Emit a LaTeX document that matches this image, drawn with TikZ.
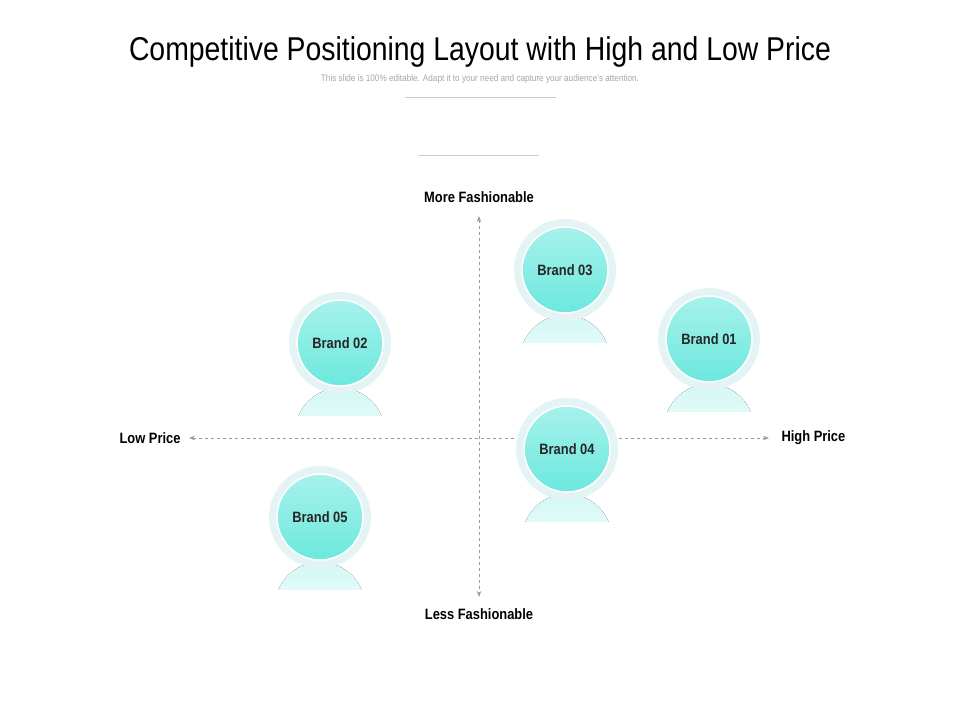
\documentclass[tikz,border=0pt]{standalone}
\usepackage{fontspec}
\setmainfont{Liberation Sans}[FakeStretch=0.86]
\usetikzlibrary{arrows.meta}
\definecolor{brandfill}{HTML}{6CE8DD}
\definecolor{brandtop}{HTML}{A6F2EC}
\definecolor{halo}{HTML}{E4F4F4}
\definecolor{axisgray}{HTML}{9A9A9A}
\begin{document}
\begin{tikzpicture}[x=1pt,y=-1pt,
    brandstyle/.style={circle, minimum size=86pt, inner sep=0pt, top color=brandtop, bottom color=brandfill, draw=white, line width=1.5pt, font=\bfseries\fontsize{15}{15}\selectfont, text=black!85},
    halostyle/.style={circle, minimum size=102pt, inner sep=0pt, fill=halo},
    axisstyle/.style={draw=axisgray, dashed, line width=0.8pt, {Stealth[length=6pt]}-{Stealth[length=6pt]}},
    axislabel/.style={font=\bfseries\fontsize{15}{15}\selectfont}]
\useasboundingbox (0,0) rectangle (960,720);
% title
\node (title) at (480,52) {\fontsize{33}{33}\selectfont Competitive Positioning Layout with High and Low Price};
\node[text=black!35] (subtitle) at (480,79) {\fontsize{9.5}{10}\selectfont This slide is 100\% editable. Adapt it to your need and capture your audience's attention.};
\draw[black!20] (405,97) -- (556,97);
\draw[black!20] (418,155) -- (539,155);
% axes
\node[axislabel] (more) at (479,197) {More Fashionable};
\node[axislabel] (less) at (479,614) {Less Fashionable};
\node[axislabel, anchor=east] (low) at (184,438) {Low Price};
\node[axislabel, anchor=west] (high) at (778,438) {High Price};
\coordinate (top) at (479,216);
\coordinate (bottom) at (479,597);
\coordinate (left) at (189,438);
\coordinate (right) at (769,438);
\draw[axisstyle] (left) -- (right);
\draw[axisstyle] (top) -- (bottom);
% brands
\foreach \n/\x/\y in {01/709/339, 02/340/343, 03/565/270, 04/567/449, 05/320/517}{
    \begin{scope}
        \clip (\x-50,\y+46) rectangle (\x+50,\y+72);
        \fill[top color=brandfill!30, bottom color=white] (\x,\y+90) circle (45);
    \end{scope}
    \node[halostyle] (halo\n) at (\x,\y) {};
    \node[brandstyle] (brand\n) at (\x,\y) {Brand \n};
}
\end{tikzpicture}
\end{document}
